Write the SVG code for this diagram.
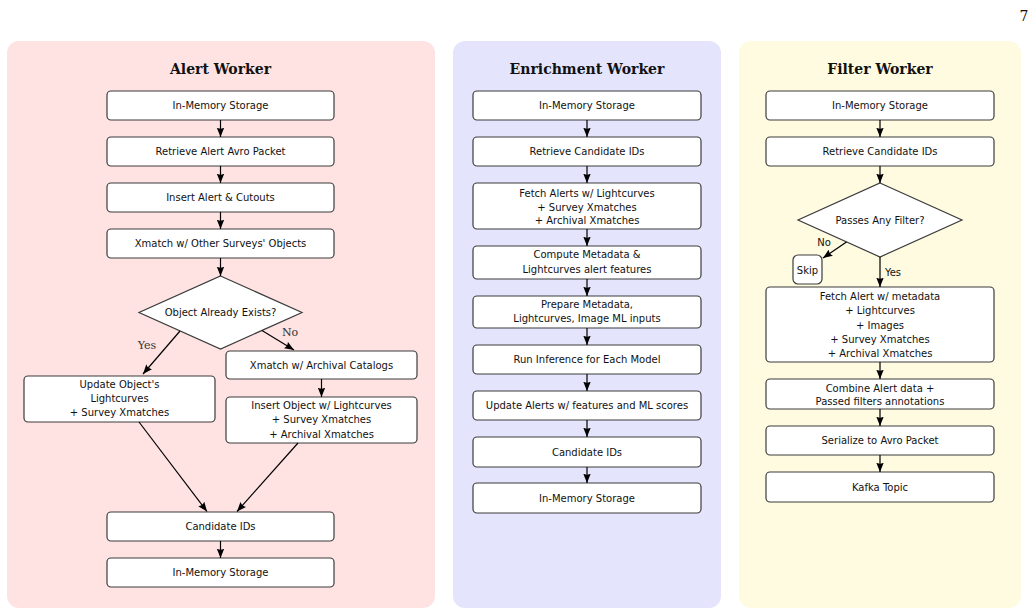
<svg xmlns="http://www.w3.org/2000/svg" width="1035" height="615" viewBox="0 0 1035 615">
<style>
.bx{fill:#fff;stroke:#3c3c3c;stroke-width:1.2}
.t{font-family:"DejaVu Sans",sans-serif;font-size:10px;fill:#111;text-anchor:middle}
.ttl{font-family:"DejaVu Serif",serif;font-size:14px;font-weight:bold;fill:#111;text-anchor:middle}
.lbl{font-family:"DejaVu Serif",serif;font-size:11px;fill:#333;text-anchor:middle}
.c{stroke:#000;stroke-width:1.2;fill:none;marker-end:url(#ah)}
</style>
<defs>
<marker id="ah" viewBox="0 0 10 8" refX="10" refY="4" markerWidth="9.5" markerHeight="7.6" markerUnits="userSpaceOnUse" orient="auto" preserveAspectRatio="none">
<path d="M0,0 L10,4 L0,8 Q2.5,4 0,0z" fill="#000"/>
</marker>
</defs>
<rect width="1035" height="615" fill="#fff"/>
<text x="1024" y="21" style="font-family:'DejaVu Serif',serif;font-size:14px;fill:#111" text-anchor="middle">7</text>

<g id="panel-alert">
<rect x="7" y="41" width="428" height="567" rx="12" fill="#ffe3e3"/>
<text class="ttl" x="220.5" y="74">Alert Worker</text>
</g>
<g id="panel-enrich">
<rect x="453" y="41" width="268" height="567" rx="12" fill="#e4e4fd"/>
<text class="ttl" x="587" y="74">Enrichment Worker</text>
</g>
<g id="panel-filter">
<rect x="739" y="41" width="282" height="567" rx="12" fill="#fffbe1"/>
<text class="ttl" x="880" y="74">Filter Worker</text>
</g>

<!-- Alert worker nodes -->
<g id="a1"><rect class="bx" x="107" y="91" width="227" height="29" rx="4"/><text class="t" x="220.5" y="109">In-Memory Storage</text></g>
<g id="a2"><rect class="bx" x="107" y="137" width="227" height="29" rx="4"/><text class="t" x="220.5" y="155">Retrieve Alert Avro Packet</text></g>
<g id="a3"><rect class="bx" x="107" y="183" width="227" height="29" rx="4"/><text class="t" x="220.5" y="201">Insert Alert &amp; Cutouts</text></g>
<g id="a4"><rect class="bx" x="107" y="229" width="227" height="29" rx="4"/><text class="t" x="220.5" y="247">Xmatch w/ Other Surveys' Objects</text></g>
<g id="a5"><polygon class="bx" points="220.5,276 302,312.5 220.5,349 139,312.5"/><text class="t" x="220.5" y="316">Object Already Exists?</text></g>
<g id="a6"><rect class="bx" x="24" y="376" width="191" height="46" rx="4"/><text class="t" x="119.5" y="388">Update Object's</text><text class="t" x="119.5" y="402">Lightcurves</text><text class="t" x="119.5" y="416">+ Survey Xmatches</text></g>
<g id="a7"><rect class="bx" x="226" y="351" width="191" height="28" rx="4"/><text class="t" x="321.5" y="368.5">Xmatch w/ Archival Catalogs</text></g>
<g id="a8"><rect class="bx" x="226" y="397" width="191" height="46" rx="4"/><text class="t" x="321.5" y="409">Insert Object w/ Lightcurves</text><text class="t" x="321.5" y="423">+ Survey Xmatches</text><text class="t" x="321.5" y="437.5">+ Archival Xmatches</text></g>
<g id="a9"><rect class="bx" x="107" y="512" width="227" height="29" rx="4"/><text class="t" x="220.5" y="530">Candidate IDs</text></g>
<g id="a10"><rect class="bx" x="107" y="558" width="227" height="29" rx="4"/><text class="t" x="220.5" y="576">In-Memory Storage</text></g>

<!-- Enrichment worker nodes -->
<g id="e1"><rect class="bx" x="473" y="91" width="228" height="29" rx="4"/><text class="t" x="587" y="109">In-Memory Storage</text></g>
<g id="e2"><rect class="bx" x="473" y="137" width="228" height="29" rx="4"/><text class="t" x="587" y="155">Retrieve Candidate IDs</text></g>
<g id="e3"><rect class="bx" x="473" y="183" width="228" height="46" rx="4"/><text class="t" x="587" y="196.5">Fetch Alerts w/ Lightcurves</text><text class="t" x="587" y="210.5">+ Survey Xmatches</text><text class="t" x="587" y="224">+ Archival Xmatches</text></g>
<g id="e4"><rect class="bx" x="473" y="246" width="228" height="33" rx="4"/><text class="t" x="587" y="258">Compute Metadata &amp;</text><text class="t" x="587" y="272.5">Lightcurves alert features</text></g>
<g id="e5"><rect class="bx" x="473" y="296" width="228" height="32" rx="4"/><text class="t" x="587" y="307.5">Prepare Metadata,</text><text class="t" x="587" y="322">Lightcurves, Image ML inputs</text></g>
<g id="e6"><rect class="bx" x="473" y="345" width="228" height="29" rx="4"/><text class="t" x="587" y="363">Run Inference for Each Model</text></g>
<g id="e7"><rect class="bx" x="473" y="391" width="228" height="29" rx="4"/><text class="t" x="587" y="409">Update Alerts w/ features and ML scores</text></g>
<g id="e8"><rect class="bx" x="473" y="437" width="228" height="30" rx="4"/><text class="t" x="587" y="455.5">Candidate IDs</text></g>
<g id="e9"><rect class="bx" x="473" y="483" width="228" height="30" rx="4"/><text class="t" x="587" y="501.5">In-Memory Storage</text></g>

<!-- Filter worker nodes -->
<g id="f1"><rect class="bx" x="766" y="91" width="228" height="29" rx="4"/><text class="t" x="880" y="109">In-Memory Storage</text></g>
<g id="f2"><rect class="bx" x="766" y="137" width="228" height="29" rx="4"/><text class="t" x="880" y="155">Retrieve Candidate IDs</text></g>
<g id="f3"><polygon class="bx" points="880,183 962,220 880,257 798,220"/><text class="t" x="880" y="223.5">Passes Any Filter?</text></g>
<g id="f4"><rect class="bx" x="793" y="255" width="29" height="29" rx="5"/><text class="t" x="807.5" y="273.5">Skip</text></g>
<g id="f5"><rect class="bx" x="766" y="287" width="228" height="75" rx="4"/><text class="t" x="880" y="299.5">Fetch Alert w/ metadata</text><text class="t" x="880" y="314">+ Lightcurves</text><text class="t" x="880" y="328.5">+ Images</text><text class="t" x="880" y="342.5">+ Survey Xmatches</text><text class="t" x="880" y="356.5">+ Archival Xmatches</text></g>
<g id="f6"><rect class="bx" x="766" y="379" width="228" height="30" rx="4"/><text class="t" x="880" y="391.5">Combine Alert data +</text><text class="t" x="880" y="404.5">Passed filters annotations</text></g>
<g id="f7"><rect class="bx" x="766" y="426" width="228" height="29" rx="4"/><text class="t" x="880" y="444">Serialize to Avro Packet</text></g>
<g id="f8"><rect class="bx" x="766" y="472" width="228" height="30" rx="4"/><text class="t" x="880" y="490.5">Kafka Topic</text></g>

<g id="connectors">
<line class="c" x1="220.5" y1="120" x2="220.5" y2="137"/>
<line class="c" x1="220.5" y1="166" x2="220.5" y2="183"/>
<line class="c" x1="220.5" y1="212" x2="220.5" y2="229"/>
<line class="c" x1="220.5" y1="258" x2="220.5" y2="276"/>
<line class="c" x1="180" y1="331" x2="143" y2="374"/>
<line class="c" x1="262" y1="330.5" x2="294" y2="350"/>
<line class="c" x1="321.5" y1="379" x2="321.5" y2="397"/>
<line class="c" x1="139" y1="422" x2="207" y2="511.5"/>
<line class="c" x1="298" y1="443" x2="237" y2="511.5"/>
<line class="c" x1="220.5" y1="541" x2="220.5" y2="558"/>

<line class="c" x1="587" y1="120" x2="587" y2="137"/>
<line class="c" x1="587" y1="166" x2="587" y2="183"/>
<line class="c" x1="587" y1="229" x2="587" y2="246"/>
<line class="c" x1="587" y1="279" x2="587" y2="296"/>
<line class="c" x1="587" y1="328" x2="587" y2="345"/>
<line class="c" x1="587" y1="374" x2="587" y2="391"/>
<line class="c" x1="587" y1="420" x2="587" y2="437"/>
<line class="c" x1="587" y1="467" x2="587" y2="483"/>

<line class="c" x1="880" y1="120" x2="880" y2="137"/>
<line class="c" x1="880" y1="166" x2="880" y2="183"/>
<line class="c" x1="846.5" y1="242" x2="823" y2="258"/>
<line class="c" x1="880" y1="257" x2="880" y2="287"/>
<line class="c" x1="880" y1="362" x2="880" y2="379"/>
<line class="c" x1="880" y1="409" x2="880" y2="426"/>
<line class="c" x1="880" y1="455" x2="880" y2="472"/>

<text class="lbl" x="147" y="349">Yes</text>
<text class="lbl" x="290" y="336">No</text>
<text class="t" x="824" y="245.5">No</text>
<text class="t" x="893" y="275.5">Yes</text>
</g>
</svg>
